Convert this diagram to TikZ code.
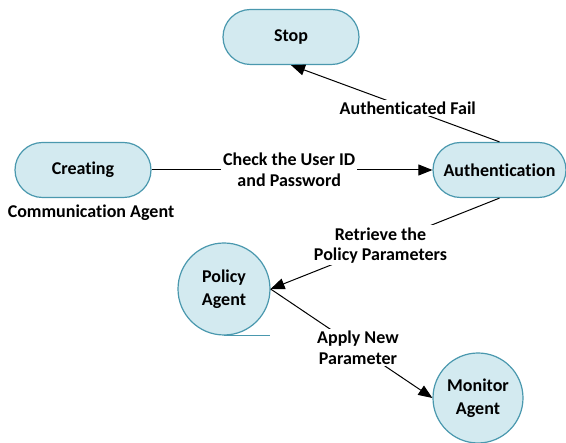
\documentclass[tikz,border=0pt]{standalone}
\usepackage{fontspec}
\setmainfont{Carlito}[Ligatures=NoCommon]
\usetikzlibrary{shapes.misc, arrows.meta}
\definecolor{fillc}{HTML}{D3EAF0}
\definecolor{bordc}{HTML}{4A98AE}
\begin{document}
\begin{tikzpicture}[x=1pt,y=-1pt,
  statebox/.style={rounded rectangle, draw=bordc, fill=fillc, line width=1.2pt, minimum width=136pt, minimum height=55pt, inner sep=0pt, font=\bfseries\fontsize{18}{21}\selectfont},
  agent/.style={circle, draw=bordc, fill=fillc, line width=1.2pt, minimum size=92pt, inner sep=0pt, align=center, font=\bfseries\fontsize{18}{23}\selectfont},
  lbl/.style={fill=white, inner sep=2pt, align=center, font=\bfseries\fontsize{18}{20.5}\selectfont},
  conn/.style={line width=1pt, -{Triangle[length=14pt,width=11pt]}}
]
\useasboundingbox (0,0) rectangle (566,443);
\node[statebox] (stop) at (291,37) {Stop};
\node[statebox] (creat) at (83,170) {Creating};
\node[statebox, minimum width=133pt] (auth) at (499.5,170) {Authentication};
\node[agent] (policy) at (224,289) {Policy\\Agent};
\node[agent, minimum size=90pt] (monitor) at (478,398) {Monitor\\Agent};
\node[font=\bfseries\fontsize{18}{21}\selectfont] (comm) at (91,213) {Communication Agent};
\coordinate (ul1) at (policy.south);
\coordinate (ul2) at ([xshift=46pt]policy.south);
\draw[bordc, line width=1.2pt] (ul1) -- (ul2);
\draw[conn] (creat.east) -- node[lbl, pos=0.49] (l1) {Check the User ID\\and Password} (auth.west);
\draw[conn] (auth.north) -- node[lbl, pos=0.44] (l2) {Authenticated Fail} (stop.south);
\draw[conn] (auth.south) -- node[lbl, pos=0.52] (l3) {Retrieve the\\Policy Parameters} (policy.east);
\draw[conn] (policy.east) -- node[lbl, pos=0.54] (l4) {Apply New\\Parameter} (monitor.west);
\end{tikzpicture}
\end{document}
